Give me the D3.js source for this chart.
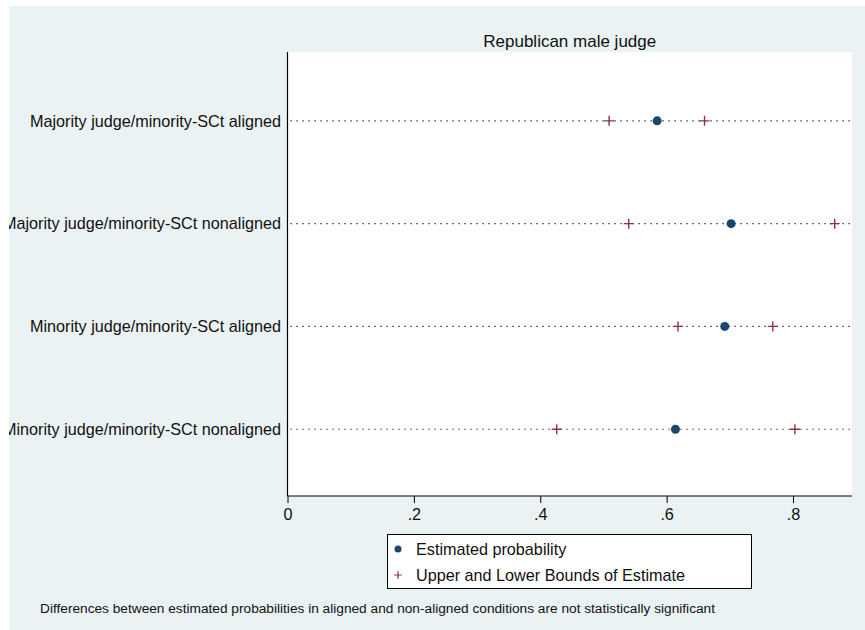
<!DOCTYPE html>
<html>
<head>
<meta charset="utf-8">
<script src="https://cdn.jsdelivr.net/npm/d3@7"></script>
<style>
  body { margin: 0; background: #fff; }
  svg { display: block; font-family: "Liberation Sans", Arial, sans-serif; }
</style>
</head>
<body>
<div id="chart-container"></div>
<script>
const categories = [
  'Majority judge/minority-SCt aligned',
  'Majority judge/minority-SCt nonaligned',
  'Minority judge/minority-SCt aligned',
  'Minority judge/minority-SCt nonaligned'
];
const estimates = [0.585, 0.702, 0.692, 0.614];
const lowerBounds = [0.509, 0.540, 0.618, 0.426];
const upperBounds = [0.660, 0.866, 0.768, 0.803];
const xTicks = [0, 0.2, 0.4, 0.6, 0.8];
const xTickLabels = ['0', '.2', '.4', '.6', '.8'];
const legendLabels = ['Estimated probability', 'Upper and Lower Bounds of Estimate'];

const width = 865;
const height = 630;
const plot = { left: 287.5, right: 852, top: 52, bottom: 496 };

const navy = '#1a476f';
const maroon = '#90353b';
const fontSize = '16.2px';

const svg = d3.select('#chart-container')
  .append('svg')
  .attr('width', width)
  .attr('height', height);

// graph region background, labels clipped to it
svg.append('defs').append('clipPath')
  .attr('id', 'graphClip')
  .append('rect')
  .attr('x', 9).attr('y', 6)
  .attr('width', width - 9).attr('height', height - 6);

const g = svg.append('g').attr('clip-path', 'url(#graphClip)');

g.append('rect')
  .attr('x', 9).attr('y', 6)
  .attr('width', width - 9).attr('height', height - 6)
  .attr('fill', '#eaf2f3');

g.append('rect')
  .attr('x', plot.left).attr('y', plot.top)
  .attr('width', plot.right - plot.left).attr('height', plot.bottom - plot.top)
  .attr('fill', '#fff');

const x = d3.scaleLinear()
  .domain([0, 0.8])
  .range([plot.left, 793]);

const y = d3.scaleLinear()
  .domain([0.33, 4.65])
  .range([plot.top, plot.bottom]);

const rowY = (d, i) => y(i + 1);

// dotted row lines
g.selectAll('.row-line')
  .data(categories)
  .join('line')
  .attr('class', 'row-line')
  .attr('x1', plot.left + 3)
  .attr('x2', plot.right)
  .attr('y1', rowY)
  .attr('y2', rowY)
  .attr('stroke', '#111')
  .attr('stroke-width', 1.1)
  .attr('stroke-dasharray', '1.2,4.8');

// category labels
g.selectAll('.cat-label')
  .data(categories)
  .join('text')
  .attr('class', 'cat-label')
  .attr('x', 281)
  .attr('y', rowY)
  .attr('dy', '0.35em')
  .attr('text-anchor', 'end')
  .style('font-size', fontSize)
  .style('fill', '#111')
  .text(d => d);

// x axis
const xAxis = d3.axisBottom(x)
  .tickValues(xTicks)
  .tickFormat((d, i) => xTickLabels[i])
  .tickSize(7)
  .tickPadding(5);

const axisG = g.append('g')
  .attr('transform', `translate(0, ${plot.bottom})`)
  .call(xAxis);
axisG.select('.domain').remove();
axisG.selectAll('.tick line').attr('stroke', '#000');
axisG.selectAll('.tick text')
  .style('font-size', fontSize)
  .style('font-family', '"Liberation Sans", Arial, sans-serif')
  .style('fill', '#111');

g.append('line')
  .attr('x1', plot.left).attr('x2', plot.right)
  .attr('y1', plot.bottom).attr('y2', plot.bottom)
  .attr('stroke', '#000').attr('stroke-width', 1);

// y axis line
g.append('line')
  .attr('x1', plot.left).attr('x2', plot.left)
  .attr('y1', plot.top).attr('y2', plot.bottom)
  .attr('stroke', '#000').attr('stroke-width', 1.2);

// plus markers for bounds
const plusPath = s => `M${-s},0H${s}M0,${-s}V${s}`;
const bounds = lowerBounds.map((d, i) => ({ v: d, i }))
  .concat(upperBounds.map((d, i) => ({ v: d, i })));

g.selectAll('.bound')
  .data(bounds)
  .join('path')
  .attr('class', 'bound')
  .attr('transform', d => `translate(${x(d.v)}, ${y(d.i + 1)})`)
  .attr('d', plusPath(5))
  .attr('stroke', maroon)
  .attr('stroke-width', 1.4)
  .attr('fill', 'none');

// estimate dots
g.selectAll('.estimate')
  .data(estimates)
  .join('circle')
  .attr('class', 'estimate')
  .attr('cx', d => x(d))
  .attr('cy', rowY)
  .attr('r', 4.5)
  .attr('fill', navy);

// title
g.append('text')
  .attr('x', (plot.left + plot.right) / 2)
  .attr('y', 47)
  .attr('text-anchor', 'middle')
  .style('font-size', '17px')
  .style('fill', '#111')
  .text('Republican male judge');

// legend
const legend = g.append('g');
legend.append('rect')
  .attr('x', 387.5).attr('y', 534.5)
  .attr('width', 364).attr('height', 54)
  .attr('fill', '#fff')
  .attr('stroke', '#000')
  .attr('stroke-width', 1);

const legendY = [549, 575];
legend.append('circle')
  .attr('cx', 398).attr('cy', legendY[0])
  .attr('r', 3.5)
  .attr('fill', navy);
legend.append('path')
  .attr('transform', `translate(398, ${legendY[1]})`)
  .attr('d', plusPath(3.8))
  .attr('stroke', maroon)
  .attr('stroke-width', 1.2);

legend.selectAll('.legend-label')
  .data(legendLabels)
  .join('text')
  .attr('class', 'legend-label')
  .attr('x', 416)
  .attr('y', (d, i) => legendY[i])
  .attr('dy', '0.35em')
  .style('font-size', fontSize)
  .style('fill', '#111')
  .text(d => d);

// note
g.append('text')
  .attr('x', 40)
  .attr('y', 613)
  .attr('textLength', 675)
  .attr('lengthAdjust', 'spacingAndGlyphs')
  .style('font-size', '12.5px')
  .style('fill', '#111')
  .text('Differences between estimated probabilities in aligned and non-aligned conditions are not statistically significant');
</script>
</body>
</html>
